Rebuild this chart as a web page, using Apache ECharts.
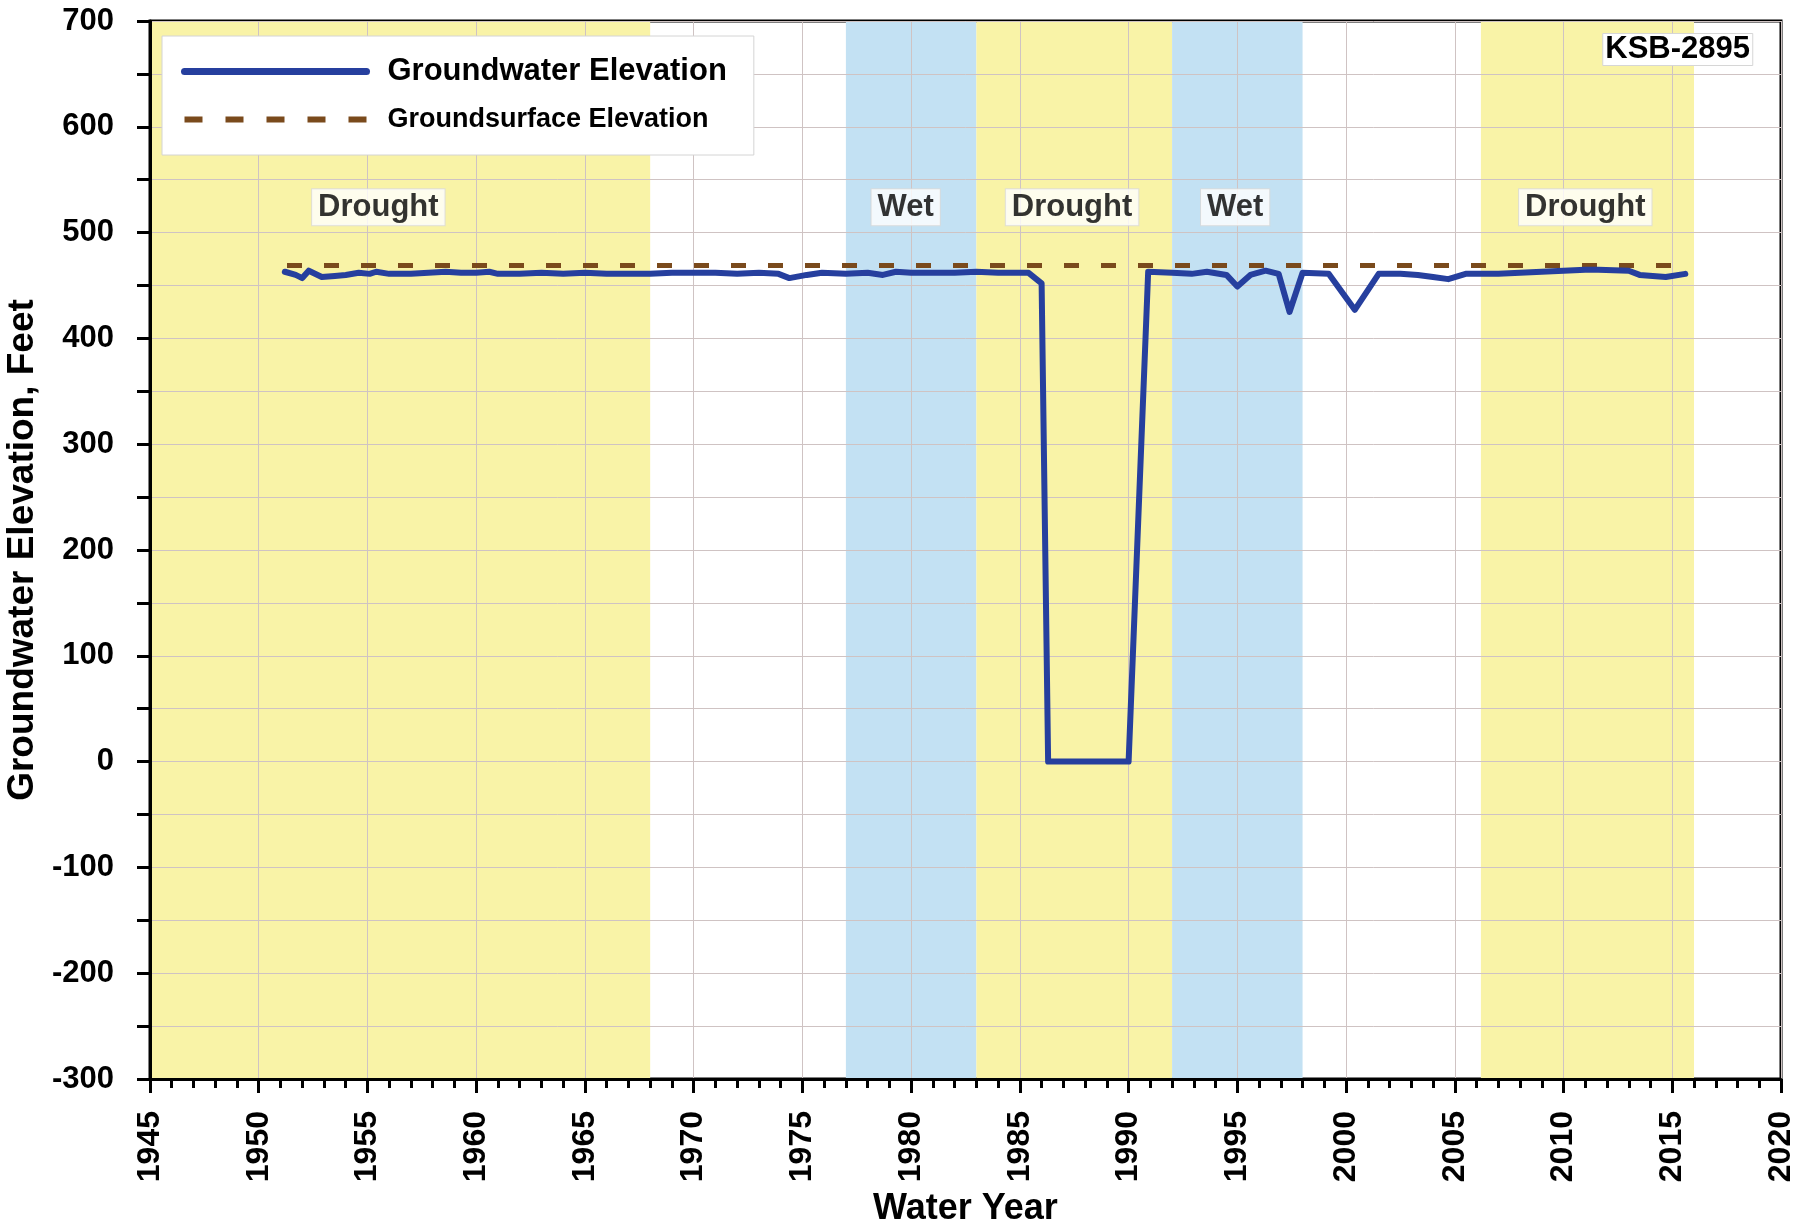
<!DOCTYPE html>
<html>
<head>
<meta charset="utf-8">
<script src="https://cdn.jsdelivr.net/npm/echarts@6/dist/echarts.min.js"></script>
<style>
  html, body { margin: 0; padding: 0; background: #fff; }
  #chart { width: 1801px; height: 1228px; }
</style>
</head>
<body>
<div id="chart"></div>
<script>
// Well KSB-2895 hydrograph: groundwater elevation by water year
const gwYears = [1951.2, 1951.7, 1952.0, 1952.3, 1952.9, 1953.5, 1954.0, 1954.6, 1955.1, 1955.4,
  1956.0, 1957.0, 1957.8, 1958.6, 1959.3, 1960.0, 1960.6, 1961.0, 1962.0, 1963.0,
  1964.0, 1965.0, 1966.0, 1967.0, 1968.0, 1969.0, 1970.0, 1971.0, 1972.0, 1973.0,
  1973.9, 1974.4, 1975.2, 1975.9, 1977.0, 1978.0, 1978.7, 1979.3, 1980.0, 1981.0,
  1982.0, 1983.0, 1984.0, 1985.0, 1985.4, 1986.0, 1986.3, 1990.0, 1990.9, 1992.0,
  1992.9, 1993.6, 1994.5, 1995.0, 1995.6, 1996.3, 1996.9, 1997.4, 1998.0, 1999.2,
  2000.4, 2001.5, 2002.5, 2003.3, 2004.0, 2004.7, 2005.5, 2007.0, 2008.0, 2009.0,
  2010.0, 2011.0, 2011.6, 2013.0, 2013.5, 2014.7, 2015.6];
const gwElev = [463, 460, 457, 464, 458, 459, 460, 462, 461, 463,
  461, 461, 462, 463, 462, 462, 463, 461, 461, 462,
  461, 462, 461, 461, 461, 462, 462, 462, 461, 462,
  461, 457, 460, 462, 461, 462, 460, 463, 462, 462,
  462, 463, 462, 462, 462, 452, 0, 0, 463, 462,
  461, 463, 460, 449, 460, 464, 461, 425, 462, 461,
  427, 461, 461, 460, 458, 456, 461, 461, 462, 463,
  464, 465, 465, 464, 460, 458, 461];

// Ground surface at the well
const gsYears = [1951.3, 2015.7];
const gsElev = [469, 469];

// Climate periods (water years)
const periodStart = [1945, 1977, 1983, 1992, 2006.2];
const periodEnd = [1968, 1983, 1992, 1998, 2016];
const periodType = ['Drought', 'Wet', 'Drought', 'Wet', 'Drought'];
const periodLabelYear = [1955.5, 1979.75, 1987.4, 1994.9, 2011.0];
const periodLabelElev = 524;

// Axis ranges and ticks
const xMin = 1945, xMax = 2020, xStep = 5;
const yMin = -300, yMax = 700, yStep = 50, yLabelStep = 100;

const FONT = '"Liberation Sans", Arial, Helvetica, sans-serif';
const bandColor = { Drought: '#f9f3a7', Wet: '#c3e1f3' };
const GW_BLUE = '#263f9e';
const GS_BROWN = '#7a4a1c';

const chart = echarts.init(document.getElementById('chart'), null, { renderer: 'canvas' });

const option = {
  backgroundColor: '#ffffff',
  animation: false,
  title: {
    text: 'KSB-2895',
    right: 48,
    top: 33,
    backgroundColor: '#ffffff',
    borderColor: '#d6d6d6',
    borderWidth: 1,
    padding: [1, 3, 1, 3],
    textStyle: { fontFamily: FONT, fontWeight: 'bold', fontSize: 31, color: '#000' }
  },
  grid: {
    left: 150, right: 20, top: 21, bottom: 149,
    containLabel: false,
    outerBoundsMode: 'none',
    show: true, borderColor: '#000', borderWidth: 3,
    backgroundColor: 'transparent'
  },
  legend: {
    orient: 'vertical',
    left: 162, top: 36,
    padding: [20, 27, 22, 19],
    itemWidth: 182, itemHeight: 20, itemGap: 19,
    backgroundColor: '#ffffff',
    borderColor: '#d4d4d4', borderWidth: 1,
    itemStyle: { opacity: 0 },
    data: [
      {
        name: 'Groundwater Elevation',
        lineStyle: { color: GW_BLUE, width: 7, type: 'solid', cap: 'round' },
        textStyle: { fontSize: 31, padding: [0, 0, 0, 16] }
      },
      {
        name: 'Groundsurface Elevation',
        lineStyle: { color: GS_BROWN, width: 6, type: [18, 23] },
        textStyle: { fontSize: 27, padding: [0, 0, 0, 16] }
      }
    ],
    textStyle: { fontFamily: FONT, fontWeight: 'bold', color: '#000' }
  },
  xAxis: {
    type: 'value',
    min: xMin, max: xMax, interval: xStep,
    z: 2,
    name: 'Water Year',
    nameLocation: 'middle',
    nameGap: 112,
    nameTextStyle: { fontFamily: FONT, fontWeight: 'bold', fontSize: 36, color: '#000' },
    axisLine: { show: true, onZero: false, lineStyle: { color: '#000', width: 3 } },
    axisTick: { show: true, inside: false, length: 14, lineStyle: { color: '#000', width: 3 } },
    minorTick: { show: true, splitNumber: 5, length: 9, lineStyle: { color: '#000', width: 3 } },
    splitLine: { show: true, lineStyle: { color: '#cfc3c3', width: 1 } },
    axisLabel: {
      rotate: 90, margin: 32,
      fontFamily: FONT, fontWeight: 'bold', fontSize: 32, color: '#000',
      formatter: v => String(v)
    }
  },
  yAxis: {
    type: 'value',
    min: yMin, max: yMax, interval: yStep,
    z: 2,
    name: 'Groundwater Elevation, Feet',
    nameLocation: 'middle',
    nameGap: 108,
    nameTextStyle: { fontFamily: FONT, fontWeight: 'bold', fontSize: 37, color: '#000' },
    axisLine: { show: true, onZero: false, lineStyle: { color: '#000', width: 3 } },
    axisTick: { show: true, inside: false, length: 13, lineStyle: { color: '#000', width: 3 } },
    splitLine: { show: true, lineStyle: { color: '#cfc3c3', width: 1 } },
    axisLabel: {
      margin: 36,
      fontFamily: FONT, fontWeight: 'bold', fontSize: 31, color: '#000',
      formatter: v => (v % yLabelStep === 0 ? String(v) : '')
    }
  },
  series: [
    {
      // shaded drought / wet periods
      name: 'periods',
      type: 'line',
      data: [],
      z: 1,
      silent: true,
      markArea: {
        silent: true,
        z: 1,
        data: periodStart.map((s, i) => [
          { xAxis: s, itemStyle: { color: bandColor[periodType[i]] } },
          { xAxis: periodEnd[i] }
        ])
      }
    },
    {
      name: 'Groundsurface Elevation',
      type: 'line',
      data: gsYears.map((x, i) => [x, gsElev[i]]),
      showSymbol: false, symbol: 'none',
      lineStyle: { color: GS_BROWN, width: 5, type: [15, 22] },
      itemStyle: { color: GS_BROWN },
      z: 5
    },
    {
      name: 'Groundwater Elevation',
      type: 'line',
      data: gwYears.map((x, i) => [x, gwElev[i]]),
      showSymbol: false, symbol: 'none',
      lineStyle: { color: GW_BLUE, width: 6, join: 'round', cap: 'round' },
      itemStyle: { color: GW_BLUE },
      z: 6
    },
    {
      // period captions
      name: 'period labels',
      type: 'scatter',
      data: periodLabelYear.map((x, i) => [x, periodLabelElev, periodType[i]]),
      symbolSize: 1,
      itemStyle: { color: 'rgba(0,0,0,0)' },
      silent: true,
      z: 7,
      label: {
        show: true,
        position: 'inside',
        formatter: p => p.value[2],
        fontFamily: FONT, fontWeight: 'bold', fontSize: 31, color: '#000',
        backgroundColor: '#ffffff',
        borderColor: '#dadada', borderWidth: 1,
        padding: [3, 6, 2, 6]
      }
    }
  ]
};

chart.setOption(option);
</script>
</body>
</html>
